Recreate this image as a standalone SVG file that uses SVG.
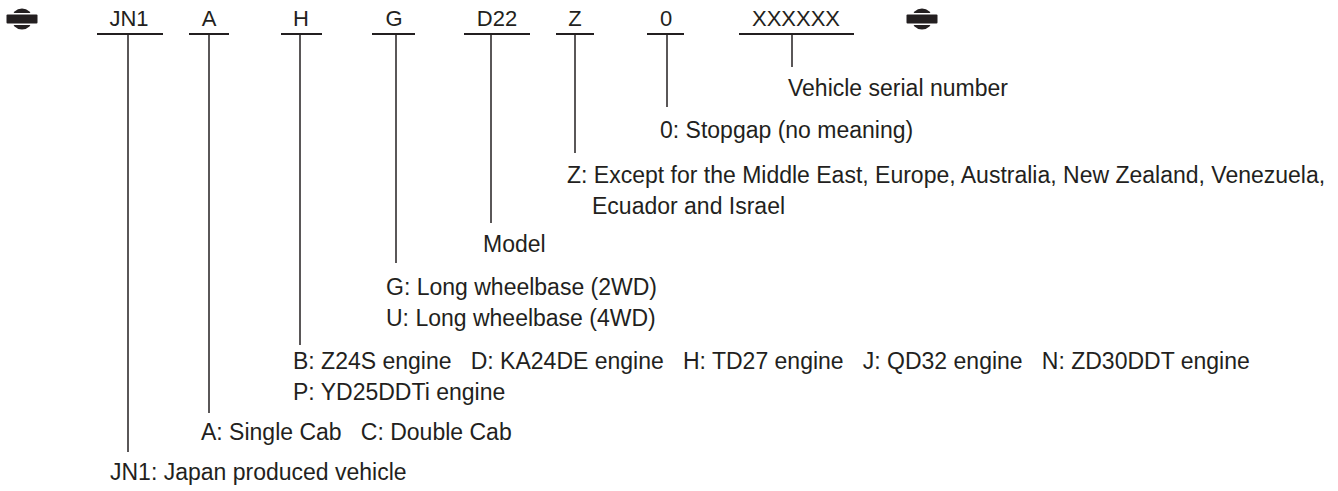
<svg xmlns="http://www.w3.org/2000/svg" width="1338" height="491" viewBox="0 0 1338 491">
<defs>
<style>
text{font-family:"Liberation Sans",Arial,sans-serif;fill:#231f20;white-space:pre}
.code{font-size:22px;text-anchor:middle}
.desc{font-size:23px}
.ul{stroke:#231f20;stroke-width:2}
.ld{stroke:#231f20;stroke-width:1.5;fill:none}
</style>
<g id="sym">
<circle cx="0" cy="0" r="10.5" fill="#231f20"/>
<rect x="-12" y="-6" width="24" height="12" fill="#fff"/>
<rect x="-15.5" y="-4.5" width="31" height="9" rx="1" fill="#231f20"/>
</g>
</defs>
<rect width="1338" height="491" fill="#fff"/>
<use href="#sym" x="22" y="19"/>
<use href="#sym" x="922" y="19"/>
<g id="n-jn1"><text class="code" x="129" y="26">JN1</text><line class="ul" x1="97" y1="34" x2="163" y2="34"/><text class="desc" x="110" y="480">JN1: Japan produced vehicle</text></g>
<g id="n-a"><text class="code" x="209" y="26">A</text><line class="ul" x1="189" y1="34" x2="229" y2="34"/><text class="desc" x="201" y="440">A: Single Cab   C: Double Cab</text></g>
<g id="n-h"><text class="code" x="301" y="26">H</text><line class="ul" x1="281" y1="34" x2="322" y2="34"/><text class="desc" x="293" y="369">B: Z24S engine   D: KA24DE engine   H: TD27 engine   J: QD32 engine   N: ZD30DDT engine</text><text class="desc" x="293" y="400">P: YD25DDTi engine</text></g>
<g id="n-g"><text class="code" x="394" y="26">G</text><line class="ul" x1="372" y1="34" x2="415" y2="34"/><text class="desc" x="386" y="295">G: Long wheelbase (2WD)</text><text class="desc" x="386" y="326">U: Long wheelbase (4WD)</text></g>
<g id="n-d22"><text class="code" x="497" y="26">D22</text><line class="ul" x1="464" y1="34" x2="530" y2="34"/><text class="desc" x="483" y="252">Model</text></g>
<g id="n-z"><text class="code" x="575" y="26">Z</text><line class="ul" x1="556" y1="34" x2="594" y2="34"/><text class="desc" x="567" y="183">Z: Except for the Middle East, Europe, Australia, New Zealand, Venezuela,</text><text class="desc" x="592" y="214">Ecuador and Israel</text></g>
<g id="n-0"><text class="code" x="666" y="26">0</text><line class="ul" x1="647" y1="34" x2="684" y2="34"/><text class="desc" x="660" y="138">0: Stopgap (no meaning)</text></g>
<g id="n-serial"><text class="code" x="796" y="26">XXXXXX</text><line class="ul" x1="739" y1="34" x2="854" y2="34"/><text class="desc" x="788" y="96">Vehicle serial number</text></g>
<g id="connectors">
<line class="ld" x1="128" y1="34" x2="128" y2="452"/>
<line class="ld" x1="209" y1="34" x2="209" y2="413"/>
<line class="ld" x1="300" y1="34" x2="300" y2="345"/>
<line class="ld" x1="396" y1="34" x2="396" y2="263"/>
<line class="ld" x1="491" y1="34" x2="491" y2="223"/>
<line class="ld" x1="575" y1="34" x2="575" y2="153"/>
<line class="ld" x1="667" y1="34" x2="667" y2="107"/>
<line class="ld" x1="792" y1="34" x2="792" y2="67"/>
</g>
</svg>
